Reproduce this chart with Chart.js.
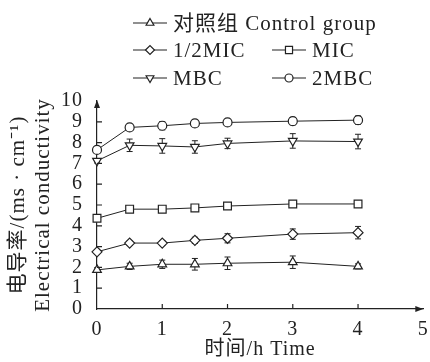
<!DOCTYPE html>
<html>
<head>
<meta charset="utf-8">
<script src="https://cdn.jsdelivr.net/npm/chart.js@4.4.0/dist/chart.umd.min.js"></script>
<style>
  body { margin: 0; background: #fff; }
  #wrap { width: 430px; height: 362px; }
</style>
</head>
<body>
<div id="wrap"><canvas id="lineChart"></canvas></div>
<script>
// time points (h)
var times = [0, 0.5, 1, 1.5, 2, 3, 4];

var seriesLabels = ['对照组 Control group', '1/2MIC', 'MIC', 'MBC', '2MBC'];

var controlValues = [1.88, 2.05, 2.15, 2.15, 2.2, 2.25, 2.05];
var halfMicValues = [2.75, 3.17, 3.17, 3.3, 3.4, 3.6, 3.67];
var micValues = [4.36, 4.8, 4.8, 4.86, 4.95, 5.05, 5.05];
var mbcValues = [7.12, 7.87, 7.84, 7.79, 7.96, 8.08, 8.05];
var twoMbcValues = [7.65, 8.73, 8.81, 8.92, 8.97, 9.03, 9.08];

// error bar half lengths
var controlErr = [0.1, 0.15, 0.2, 0.28, 0.3, 0.3, 0.12];
var halfMicErr = [0.1, 0.1, 0.12, 0.15, 0.22, 0.25, 0.3];
var micErr = [0.08, 0.08, 0.08, 0.08, 0.08, 0.1, 0.08];
var mbcErr = [0.1, 0.3, 0.35, 0.3, 0.25, 0.35, 0.35];
var twoMbcErr = [0.1, 0.12, 0.2, 0.15, 0.12, 0.18, 0.2];

var xTicks = [0, 1, 2, 3, 4, 5];
var yTicks = [0, 1, 2, 3, 4, 5, 6, 7, 8, 9, 10];

var serif = '"Liberation Serif", "Noto Sans CJK SC", serif';
var ink = '#222';

function toPoints(vals) {
    return times.map(function (t, i) { return { x: t, y: vals[i] }; });
}

function makeSet(label, vals, err, style, radius, rot) {
    return {
        label: label,
        data: toPoints(vals),
        err: err,
        borderColor: ink,
        borderWidth: 1,
        backgroundColor: '#fff',
        pointStyle: style,
        pointRadius: radius,
        pointRotation: rot || 0,
        pointBorderColor: ink,
        pointBackgroundColor: '#fff',
        pointBorderWidth: 1.2,
        tension: 0,
        clip: false
    };
}

// the scanned figure has slightly spread-out lettering
function spacing(chart) { chart.ctx.letterSpacing = '1px'; }

// error bars, inner ticks, axis arrows, legend
var extras = {
    id: 'extras',
    beforeUpdate: spacing,
    beforeLayout: spacing,
    beforeDraw: spacing,
    beforeDatasetsDraw: function (chart) {
        var ctx = chart.ctx;
        var xs = chart.scales.x, ys = chart.scales.y;
        ctx.save();
        ctx.strokeStyle = ink;
        ctx.lineWidth = 1;
        chart.data.datasets.forEach(function (ds) {
            ds.data.forEach(function (p, i) {
                var e = ds.err[i];
                var px = xs.getPixelForValue(p.x);
                var top = ys.getPixelForValue(p.y + e);
                var bot = ys.getPixelForValue(p.y - e);
                ctx.beginPath();
                ctx.moveTo(px, top); ctx.lineTo(px, bot);
                ctx.moveTo(px - 3, top); ctx.lineTo(px + 3, top);
                ctx.moveTo(px - 3, bot); ctx.lineTo(px + 3, bot);
                ctx.stroke();
            });
        });
        ctx.restore();
    },
    afterDraw: function (chart) {
        var ctx = chart.ctx;
        var xs = chart.scales.x, ys = chart.scales.y;
        var x0 = xs.getPixelForValue(0), y0 = ys.getPixelForValue(0);
        ctx.save();
        ctx.strokeStyle = ink;
        ctx.fillStyle = ink;
        ctx.lineWidth = 1.2;
        ctx.beginPath();
        xTicks.forEach(function (t) {
            if (t === 0 || t === 5) return;
            var px = xs.getPixelForValue(t);
            ctx.moveTo(px, y0); ctx.lineTo(px, y0 - 5);
        });
        yTicks.forEach(function (t) {
            if (t === 0 || t === 10) return;
            var py = ys.getPixelForValue(t);
            ctx.moveTo(x0, py); ctx.lineTo(x0 + 5, py);
        });
        ctx.stroke();
        // arrows
        var xe = xs.getPixelForValue(5), ye = ys.getPixelForValue(10);
        ctx.beginPath();
        ctx.moveTo(xe, y0); ctx.lineTo(xe - 8, y0 - 3); ctx.lineTo(xe - 8, y0 + 3); ctx.closePath();
        ctx.fill();
        ctx.beginPath();
        ctx.moveTo(x0, ye - 1); ctx.lineTo(x0 - 3, ye + 7); ctx.lineTo(x0 + 3, ye + 7); ctx.closePath();
        ctx.fill();

        // legend, three rows
        var spots = [[133, 23], [133, 50], [272, 50], [133, 78], [272, 78]];
        ctx.font = '21px ' + serif;
        ctx.letterSpacing = '1px';
        ctx.textBaseline = 'middle';
        chart.data.datasets.forEach(function (ds, i) {
            var lx = spots[i][0], ly = spots[i][1];
            ctx.lineWidth = 1.2;
            ctx.beginPath();
            ctx.moveTo(lx, ly); ctx.lineTo(lx + 34, ly);
            ctx.stroke();
            ctx.fillStyle = '#fff';
            Chart.helpers.drawPoint(ctx, {
                pointStyle: ds.pointStyle,
                radius: ds.pointRadius - 0.5,
                rotation: ds.pointRotation,
                borderWidth: 1.2
            }, lx + 17, ly);
            ctx.fillStyle = ink;
            ctx.fillText(ds.label, lx + 40, ly + 1);
        });
        ctx.restore();
    }
};

var ctxLineChart = document.getElementById('lineChart').getContext('2d');
var lineChart = new Chart(ctxLineChart, {
    type: 'line',
    data: {
        datasets: [
            makeSet(seriesLabels[0], controlValues, controlErr, 'triangle', 5),
            makeSet(seriesLabels[1], halfMicValues, halfMicErr, 'rectRot', 5),
            makeSet(seriesLabels[2], micValues, micErr, 'rect', 5.5),
            makeSet(seriesLabels[3], mbcValues, mbcErr, 'triangle', 5, 180),
            makeSet(seriesLabels[4], twoMbcValues, twoMbcErr, 'circle', 4.5)
        ]
    },
    options: {
        responsive: true,
        maintainAspectRatio: false,
        animation: false,
        layout: { padding: { top: 101, right: 5, left: 6, bottom: 0 } },
        plugins: {
            legend: { display: false },
            tooltip: { enabled: false }
        },
        scales: {
            x: {
                type: 'linear',
                min: 0,
                max: 5,
                afterBuildTicks: function (s) { s.ticks = xTicks.map(function (v) { return { value: v }; }); },
                afterFit: function (s) { s.height = 53; s.paddingRight = 0; s.paddingLeft = 0; },
                ticks: { color: ink, font: { family: serif, size: 20 }, padding: 9, maxRotation: 0, autoSkip: false },
                grid: { display: true, drawOnChartArea: false, drawTicks: false, color: 'rgba(0,0,0,0)' },
                border: { color: ink, width: 1.2 },
                title: { display: true, text: '时间/h Time', color: ink, font: { family: serif, size: 20 }, padding: { top: 0, bottom: 0 } }
            },
            y: {
                min: 0,
                max: 10,
                afterBuildTicks: function (s) { s.ticks = yTicks.map(function (v) { return { value: v }; }); },
                afterFit: function (s) { s.width = 91; },
                ticks: { color: ink, font: { family: serif, size: 20 }, padding: 14, autoSkip: false },
                grid: { display: true, drawOnChartArea: false, drawTicks: false, color: 'rgba(0,0,0,0)' },
                border: { color: ink, width: 1.2 },
                title: {
                    display: true,
                    text: ['电导率/(ms · cm⁻¹)', 'Electrical conductivity'],
                    color: ink,
                    font: { family: serif, size: 21, lineHeight: 1.2 },
                    padding: { top: 0, bottom: 2 }
                }
            }
        }
    },
    plugins: [extras]
});
</script>
</body>
</html>
